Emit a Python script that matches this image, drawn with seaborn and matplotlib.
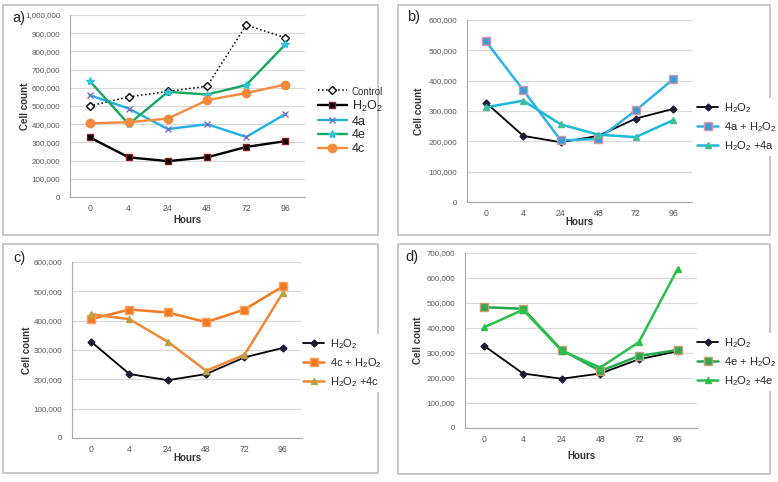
import numpy as np
import pandas as pd
import seaborn as sns
import matplotlib.pyplot as plt
from matplotlib.patches import Rectangle

# Dados
horas = ['0', '4', '24', '48', '72', '96']

controle = [500000, 550000, 580000, 609000, 945000, 875000]
h2o2 = [328000, 218000, 197000, 218000, 275000, 307000]
c4a = [560000, 486000, 373000, 400000, 330000, 456000]
c4e = [638000, 400000, 578000, 563000, 615000, 839000]
c4c = [405000, 411000, 431000, 532000, 571000, 618000]

c4a_h2o2 = [530000, 369000, 203000, 208000, 302000, 405000]
h2o2_4a = [312000, 334000, 256000, 222000, 214000, 270000]

c4c_h2o2 = [405000, 438000, 428000, 395000, 438000, 517000]
h2o2_4c = [422000, 405000, 328000, 229000, 284000, 495000]

c4e_h2o2 = [483000, 477000, 312000, 228000, 288000, 312000]
h2o2_4e = [403000, 473000, 309000, 242000, 344000, 637000]

H2 = r'H$_2$O$_2$'

sns.set_style('white')
plt.rcParams['font.family'] = ['Liberation Sans', 'DejaVu Sans']
plt.rcParams['mathtext.fontset'] = 'custom'
plt.rcParams['mathtext.rm'] = 'Liberation Sans'
plt.rcParams['mathtext.default'] = 'regular'

W, H = 778, 482
fig = plt.figure(figsize=(W / 100, H / 100), dpi=100)


def eixo(l, r, t, b):
    return fig.add_axes([l / W, 1 - b / H, (r - l) / W, (b - t) / H])


def moldura(x0, x1, y0, y1):
    fig.patches.append(Rectangle((x0 / W, 1 - y1 / H), (x1 - x0) / W, (y1 - y0) / H,
                                 transform=fig.transFigure, fill=False,
                                 edgecolor='#c8c8c8', linewidth=1.4))


def estilo(ax, ymax, passo, dy_label, ylab_x):
    ax.set_xlim(-0.5, len(horas) - 0.5)
    ax.set_ylim(0, ymax)
    ax.set_yticks(np.arange(0, ymax + 1, passo))
    ax.set_yticklabels([f'{int(v):,}' for v in np.arange(0, ymax + 1, passo)],
                       fontsize=5.8, color='#595959')
    ax.set_xticks(np.arange(len(horas)))
    ax.set_xticklabels(horas, fontsize=6.3, color='#595959')
    ax.set_xticks(np.arange(-0.5, len(horas)), minor=True)
    ax.tick_params(axis='x', which='major', length=0, pad=5)
    ax.tick_params(axis='x', which='minor', length=4, color='#aaaaaa', width=0.8)
    ax.tick_params(axis='y', length=4, color='#aaaaaa', width=0.8, pad=3)
    ax.grid(axis='y', color='#d9d9d9', linewidth=0.8)
    ax.set_axisbelow(True)
    for s in ['top', 'right']:
        ax.spines[s].set_visible(False)
    for s in ['left', 'bottom']:
        ax.spines[s].set_color('#aaaaaa')
        ax.spines[s].set_linewidth(0.8)
    ax.set_xlabel('Hours', fontsize=7, fontweight='bold', color='#333333')
    ax.xaxis.set_label_coords(0.5, -dy_label)
    ax.set_ylabel('Cell count', fontsize=7, fontweight='bold', color='#333333')
    ax.yaxis.set_label_coords(ylab_x, 0.5)
    if ax.get_legend() is not None:
        ax.get_legend().remove()


def serie(ax, vals, label, color, lw, marker, ms, mfc, mec, ls='-'):
    sns.lineplot(x=np.arange(len(horas)), y=vals, ax=ax, color=color, linewidth=lw,
                 linestyle=ls, marker=marker, markersize=ms, markerfacecolor=mfc,
                 markeredgecolor=mec, markeredgewidth=1.0, label=label)


def legenda(ax, x, y, fs, espaco=0.45):
    hs, ls = ax.get_legend_handles_labels()
    fig.legend(hs, ls, loc='upper left', bbox_to_anchor=(x / W, 1 - y / H),
               fontsize=fs, frameon=True, facecolor='white', edgecolor='none',
               framealpha=1, handlelength=1.9, labelspacing=espaco,
               borderpad=0.3, handletextpad=0.5, borderaxespad=0)


# a)
moldura(3, 378, 5, 235)
ax = eixo(70, 305, 15, 197)
serie(ax, controle, 'Control', 'black', 1.1, 'D', 4.5, 'white', 'black', ls=':')
serie(ax, h2o2, H2, 'black', 1.7, 's', 5, 'black', '#8b1a1a')
serie(ax, c4a, '4a', '#1db1e6', 1.7, 'x', 5, '#7a6ec4', '#7a6ec4')
serie(ax, c4e, '4e', '#14a85e', 1.7, '*', 6, '#30c2d8', '#30c2d8')
serie(ax, c4c, '4c', '#f58a3c', 1.7, 'o', 6, '#f58a3c', '#f58a3c')
estilo(ax, 1000000, 100000, 0.10, -0.17)
hs, ls = ax.get_legend_handles_labels()
leg = fig.legend(hs, ls, loc='upper left', bbox_to_anchor=(313 / W, 1 - 81 / H),
                 fontsize=9, frameon=False, handlelength=2.3, labelspacing=0.15,
                 handletextpad=0.4, borderaxespad=0)
leg.get_texts()[0].set_fontsize(7)
leg.get_texts()[0].set_color('#333333')
fig.text(12 / W, 1 - 18 / H, 'a)', fontsize=10.5, va='center')

# b)
moldura(398, 770, 5, 235)
ax = eixo(467, 692, 20, 202)
serie(ax, h2o2, H2, 'black', 1.3, 'D', 3.5, '#1b1b3a', '#1b1b3a')
serie(ax, c4a_h2o2, '4a + ' + H2, '#2ab3e8', 1.8, 's', 6, '#3d9bd6', '#d994a8')
serie(ax, h2o2_4a, H2 + ' +4a', '#1cb9dc', 1.8, '^', 5, '#3fbd96', '#3fbd96')
estilo(ax, 600000, 100000, 0.08, -0.19)
legenda(ax, 694, 98, 8)
fig.text(407 / W, 1 - 17 / H, 'b)', fontsize=10.5, va='center')

# c)
moldura(3, 378, 244, 473)
ax = eixo(72, 302, 262, 438)
serie(ax, h2o2, H2, 'black', 1.3, 'D', 3.5, '#1b1b3a', '#1b1b3a')
serie(ax, c4c_h2o2, '4c + ' + H2, '#f47a22', 1.8, 's', 6, '#f47a22', '#f9a060')
serie(ax, h2o2_4c, H2 + ' +4c', '#f08838', 1.8, '^', 5, '#b9a040', '#b9a040')
estilo(ax, 600000, 100000, 0.085, -0.175)
legenda(ax, 300, 334, 8)
fig.text(13 / W, 1 - 258 / H, 'c)', fontsize=10.5, va='center')

# d)
moldura(398, 770, 244, 474)
ax = eixo(465, 697, 253, 428)
serie(ax, h2o2, H2, 'black', 1.3, 'D', 3.5, '#1b1b3a', '#1b1b3a')
serie(ax, c4e_h2o2, '4e + ' + H2, '#1eaa4c', 1.8, 's', 6, '#2aa853', '#c9a070')
serie(ax, h2o2_4e, H2 + ' +4e', '#2bbf4b', 1.8, '^', 5, '#2bbf4b', '#2bbf4b')
estilo(ax, 700000, 100000, 0.13, -0.18)
legenda(ax, 694, 333, 8)
fig.text(405 / W, 1 - 257 / H, 'd)', fontsize=10.5, va='center')

fig.savefig('out.png', dpi=100)
